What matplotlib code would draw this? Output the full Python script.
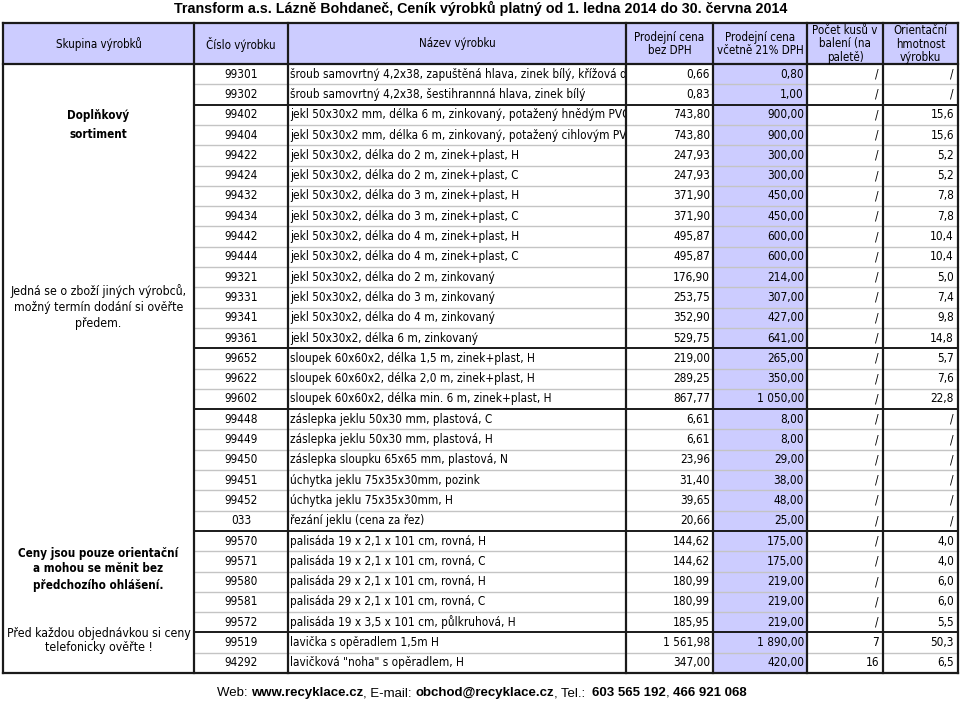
import matplotlib
matplotlib.use("Agg")
import matplotlib.pyplot as plt
from matplotlib.patches import Rectangle

title = "Transform a.s. Lázně Bohdaneč, Ceník výrobků platný od 1. ledna 2014 do 30. června 2014"

headers = ["Skupina výrobků", "Číslo výrobku", "Název výrobku",
           "Prodejní cena\nbez DPH", "Prodejní cena\nvčetně 21% DPH",
           "Počet kusů v\nbalení (na\npaletě)", "Orientační\nhmotnost\nvýrobku"]

codes = ["99301", "99302", "99402", "99404", "99422", "99424", "99432", "99434",
         "99442", "99444", "99321", "99331", "99341", "99361", "99652", "99622",
         "99602", "99448", "99449", "99450", "99451", "99452", "033", "99570",
         "99571", "99580", "99581", "99572", "99519", "94292"]

names = [
    "šroub samovrtný 4,2x38, zapuštěná hlava, zinek bílý, křížová drážka",
    "šroub samovrtný 4,2x38, šestihrannná hlava, zinek bílý",
    "jekl 50x30x2 mm, délka 6 m, zinkovaný, potažený hnědým PVC",
    "jekl 50x30x2 mm, délka 6 m, zinkovaný, potažený cihlovým PVC",
    "jekl 50x30x2, délka do 2 m, zinek+plast, H",
    "jekl 50x30x2, délka do 2 m, zinek+plast, C",
    "jekl 50x30x2, délka do 3 m, zinek+plast, H",
    "jekl 50x30x2, délka do 3 m, zinek+plast, C",
    "jekl 50x30x2, délka do 4 m, zinek+plast, H",
    "jekl 50x30x2, délka do 4 m, zinek+plast, C",
    "jekl 50x30x2, délka do 2 m, zinkovaný",
    "jekl 50x30x2, délka do 3 m, zinkovaný",
    "jekl 50x30x2, délka do 4 m, zinkovaný",
    "jekl 50x30x2, délka 6 m, zinkovaný",
    "sloupek 60x60x2, délka 1,5 m, zinek+plast, H",
    "sloupek 60x60x2, délka 2,0 m, zinek+plast, H",
    "sloupek 60x60x2, délka min. 6 m, zinek+plast, H",
    "záslepka jeklu 50x30 mm, plastová, C",
    "záslepka jeklu 50x30 mm, plastová, H",
    "záslepka sloupku 65x65 mm, plastová, N",
    "úchytka jeklu 75x35x30mm, pozink",
    "úchytka jeklu 75x35x30mm, H",
    "řezání jeklu (cena za řez)",
    "palisáda 19 x 2,1 x 101 cm, rovná, H",
    "palisáda 19 x 2,1 x 101 cm, rovná, C",
    "palisáda 29 x 2,1 x 101 cm, rovná, H",
    "palisáda 29 x 2,1 x 101 cm, rovná, C",
    "palisáda 19 x 3,5 x 101 cm, půlkruhová, H",
    "lavička s opěradlem 1,5m H",
    "lavičková \"noha\" s opěradlem, H",
]

price_net = ["0,66", "0,83", "743,80", "743,80", "247,93", "247,93", "371,90", "371,90",
             "495,87", "495,87", "176,90", "253,75", "352,90", "529,75", "219,00", "289,25",
             "867,77", "6,61", "6,61", "23,96", "31,40", "39,65", "20,66", "144,62",
             "144,62", "180,99", "180,99", "185,95", "1 561,98", "347,00"]

price_vat = ["0,80", "1,00", "900,00", "900,00", "300,00", "300,00", "450,00", "450,00",
             "600,00", "600,00", "214,00", "307,00", "427,00", "641,00", "265,00", "350,00",
             "1 050,00", "8,00", "8,00", "29,00", "38,00", "48,00", "25,00", "175,00",
             "175,00", "219,00", "219,00", "219,00", "1 890,00", "420,00"]

pieces = ["/"] * 28 + ["7", "16"]

weights = ["/", "/", "15,6", "15,6", "5,2", "5,2", "7,8", "7,8", "10,4", "10,4",
           "5,0", "7,4", "9,8", "14,8", "5,7", "7,6", "22,8", "/", "/", "/", "/", "/", "/",
           "4,0", "4,0", "6,0", "6,0", "5,5", "50,3", "6,5"]

# thick separator after these rows
group_ends = [2, 14, 17, 23, 28]

side_notes = [
    ("Doplňkový", 116, True), ("sortiment", 134, True),
    ("Jedná se o zboží jiných výrobců,", 291, False),
    ("možný termín dodání si ověřte", 307, False),
    ("předem.", 323, False),
    ("Ceny jsou pouze orientační", 553, True),
    ("a mohou se měnit bez", 569, True),
    ("předchozího ohlášení.", 585, True),
    ("Před každou objednávkou si ceny", 633, False),
    ("telefonicky ověřte !", 648, False),
]

footer = [("Web: ", "normal"), ("www.recyklace.cz", "bold"), (", E-mail: ", "normal"),
          ("obchod@recyklace.cz", "bold"), (", Tel.:  ", "normal"), ("603 565 192", "bold"),
          (", ", "normal"), ("466 921 068", "bold")]

# layout
col_x = [3, 194, 288, 626, 713, 807, 883, 958]
head_top, head_bot = 23, 64
row_h = 20.3
lav = "#ccccff"
dark = "#1a1a1a"
cond = dict(family="DejaVu Sans", fontstretch="condensed", color="black")
body = dict(fontsize=8.5, **cond)

fig = plt.figure(figsize=(9.6, 7.02), dpi=100)
ax = fig.add_axes([0, 0, 1, 1])
ax.set_xlim(0, 960)
ax.set_ylim(702, 0)
ax.axis("off")

n = len(codes)
bottom = head_bot + n * row_h

# fills
ax.add_patch(Rectangle((col_x[0], head_top), col_x[-1] - col_x[0], head_bot - head_top,
                       facecolor=lav, edgecolor="none"))
ax.add_patch(Rectangle((col_x[4], head_bot), col_x[5] - col_x[4], n * row_h,
                       facecolor=lav, edgecolor="none"))

# row lines
for i in range(1, n):
    y = head_bot + i * row_h
    if i in group_ends:
        ax.plot([col_x[1], col_x[-1]], [y, y], color=dark, lw=1.4, solid_capstyle="butt")
    else:
        ax.plot([col_x[1], col_x[-1]], [y, y], color="#c4c4c4", lw=1.0)

# frame + columns
for y in (head_top, head_bot, bottom):
    ax.plot([col_x[0], col_x[-1]], [y, y], color=dark, lw=1.6)
for x in col_x:
    ax.plot([x, x], [head_top, bottom], color=dark, lw=1.6)

# header texts
for j, h in enumerate(headers):
    ax.text((col_x[j] + col_x[j + 1]) / 2, (head_top + head_bot) / 2 + 0.5, h,
            ha="center", va="center", linespacing=1.1, fontsize=8.3, **cond)

# rows
for i in range(n):
    yc = head_bot + (i + 0.5) * row_h
    ax.text((col_x[1] + col_x[2]) / 2, yc, codes[i], ha="center", va="center", **body)
    t = ax.text(col_x[2] + 2, yc, names[i], ha="left", va="center", clip_on=True, **body)
    t.set_clip_path(Rectangle((col_x[2], yc - row_h / 2), col_x[3] - col_x[2] - 1, row_h,
                              transform=ax.transData))
    ax.text(col_x[4] - 3, yc, price_net[i], ha="right", va="center", **body)
    ax.text(col_x[5] - 3, yc, price_vat[i], ha="right", va="center", **body)
    ax.text(col_x[6] - 4, yc, pieces[i], ha="right", va="center", **body)
    ax.text(col_x[7] - 4, yc, weights[i], ha="right", va="center", **body)

# notes in the merged group column
for txt, y, bold in side_notes:
    ax.text((col_x[0] + col_x[1]) / 2, y, txt, ha="center", va="center",
            fontweight="bold" if bold else "normal",
            fontsize=8.4 if bold else 8.8, **cond)

# title
ax.text(481, 8, title, ha="center", va="center", family="Liberation Sans",
        fontweight="bold", fontsize=10.3)

# footer, pieces laid out one after another
fig.canvas.draw()
r = fig.canvas.get_renderer()
parts = []
for s, w in footer:
    t = ax.text(0, 693, s, ha="left", va="center", family="Liberation Sans",
                fontweight=w, fontsize=9.5)
    parts.append(t)
widths = [p.get_window_extent(r).width for p in parts]
x = 482 - sum(widths) / 2
for p, w in zip(parts, widths):
    p.set_x(x)
    x += w

fig.savefig("out.png", dpi=100)
